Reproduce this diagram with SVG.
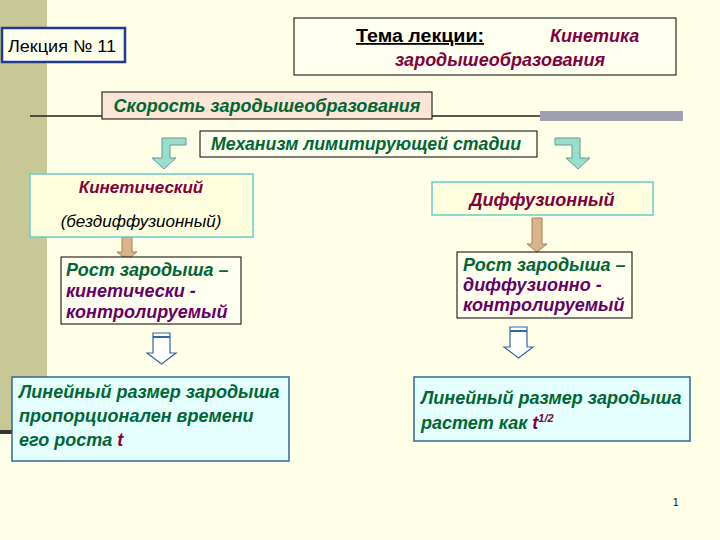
<svg xmlns="http://www.w3.org/2000/svg" width="720" height="540" viewBox="0 0 720 540">
<defs>
<style>
text{font-family:"Liberation Sans",Arial,sans-serif;font-weight:bold;font-style:italic;font-size:18px}
.g{fill:#006633}.r{fill:#800040}.p{fill:#660066}
.n{font-style:normal;font-weight:normal;fill:#000}
.box{stroke:#000;stroke-width:1}
.cy{fill:#FFFFDD;stroke:#66CCCC;stroke-width:1.5}
.bl{fill:#E5FFFF;stroke:#336699;stroke-width:1.5}
.ga{fill:#99DDCC;stroke:#669999;stroke-width:1}
.ba{fill:#D9B38C;stroke:#B08050;stroke-width:1}
.ha{fill:#FFFFFF;stroke:#3366AA;stroke-width:1.2}
</style>
</defs>
<rect width="720" height="540" fill="#FFFFE8"/>
<rect x="0" y="0" width="47" height="430" fill="#C8C896"/>
<rect x="0" y="430" width="14" height="4" fill="#333"/>
<g id="connectors">
<line x1="30" y1="116" x2="683" y2="116" stroke="#222" stroke-width="1.5"/>
<rect x="540" y="111" width="143" height="10" fill="#A0A0B0"/>
<path class="ga" d="M186,138 H162 V158 H152 L164,169 L176,158 H170 V145 H186 Z"/>
<path class="ga" d="M555,138 H580 V158 H590 L578,169 L566,158 H572 V145 H555 Z"/>
<path class="ba" d="M122,237 H132 V252 H137 L127,260 L117,252 H122 Z"/>
<path class="ba" d="M532,218 H542 V244 H547 L537,252 L527,244 H532 Z"/>
<path class="ha" d="M153,333 H170 V353 H176 L161.5,364 L147,353 H153 Z"/>
<line x1="153" y1="337" x2="170" y2="337" stroke="#3366AA" stroke-width="2"/>
<path class="ha" d="M510,327 H527 V347 H533 L518.5,358 L504,347 H510 Z"/>
<line x1="510" y1="331" x2="527" y2="331" stroke="#3366AA" stroke-width="2"/>
</g>
<g id="lecture"><rect x="2" y="28" width="123" height="34" fill="#FFFFEE" stroke="#1F3A93" stroke-width="2.5"/><text class="n" x="8" y="52" style="font-size:17px" textLength="108" lengthAdjust="spacingAndGlyphs">Лекция № 11</text></g>
<g id="theme"><rect x="294" y="18" width="382" height="57" fill="#FFFFF0" class="box"/>
<text x="356" y="42" style="font-style:normal;font-size:18px" fill="#000" text-decoration="underline" textLength="128" lengthAdjust="spacingAndGlyphs">Тема лекции:</text><text class="r" x="550" y="42">Кинетика</text>
<text class="r" x="500" y="66" text-anchor="middle">зародышеобразования</text></g>
<g id="rate"><rect x="102" y="92" width="330" height="27" fill="#FCE4D6" class="box"/><text class="g" x="267" y="112" text-anchor="middle">Скорость зародышеобразования</text></g>
<g id="mech"><rect x="200" y="131" width="337" height="26" fill="#FFFFF0" class="box"/><text class="g" x="366" y="150" text-anchor="middle" textLength="310" lengthAdjust="spacingAndGlyphs">Механизм лимитирующей стадии</text></g>
<g id="kin"><rect x="30" y="174" width="223" height="63" class="cy"/><text class="r" x="141" y="193" style="font-size:17px" text-anchor="middle">Кинетический</text><text x="141" y="227" text-anchor="middle" fill="#000" style="font-weight:normal;font-size:17px">(бездиффузионный)</text></g>
<g id="diff"><rect x="432" y="182" width="221" height="33" class="cy"/><text class="r" x="542" y="206" text-anchor="middle">Диффузионный</text></g>
<g id="growk"><rect x="61" y="257" width="180" height="67" fill="#FFFFF0" class="box"/><text class="g" x="66" y="276">Рост зародыша –</text><text class="p" x="66" y="297">кинетически -</text><text class="p" x="66" y="318">контролируемый</text></g>
<g id="growd"><rect x="457" y="252" width="175" height="66" fill="#FFFFF0" class="box"/><text class="g" x="463" y="271">Рост зародыша –</text><text class="p" x="463" y="291">диффузионно -</text><text class="p" x="463" y="311">контролируемый</text></g>
<g id="sizek"><rect x="12" y="377" width="277" height="84" class="bl"/><text class="g" x="19" y="398">Линейный размер зародыша</text><text class="g" x="19" y="422">пропорционален времени</text><text class="g" x="19" y="446">его роста <tspan class="r">t</tspan></text></g>
<g id="sized"><rect x="414" y="377" width="276" height="64" class="bl"/><text class="g" x="421" y="404">Линейный размер зародыша</text><text class="g" x="421" y="429">растет как  <tspan class="r">t<tspan style="font-size:11px" dy="-7">1/2</tspan></tspan></text></g>
<text class="n" x="673" y="506" style="font-size:10px">1</text>
</svg>
